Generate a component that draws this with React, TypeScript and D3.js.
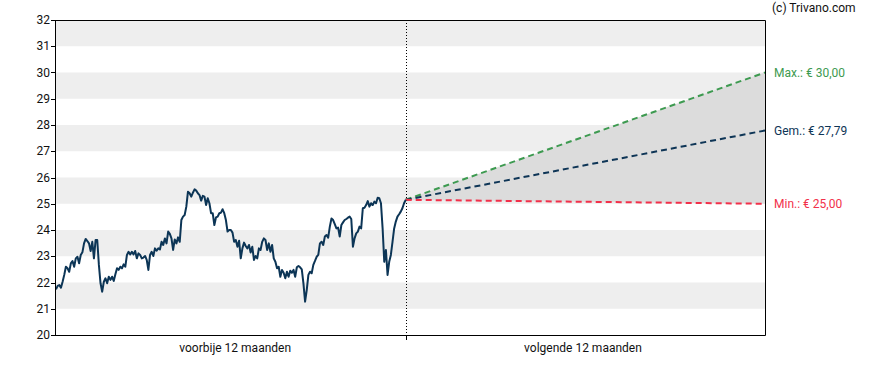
import React from "react";
import * as d3 from "d3";

// Past 12 months closing prices (evenly spaced trading days)
const pastPrices: number[] = [
  21.74, 21.87, 21.9, 21.8, 22.03, 22.29, 22.6, 22.54, 22.41, 22.73, 22.82, 22.6, 22.92, 22.98, 22.73, 23.05, 23.15, 23.49, 23.66, 23.58, 23.49, 23.2, 23.55, 22.92, 23.62, 23.62, 22.67, 21.97, 21.65, 22.03, 22.16, 21.97, 22.22, 22.1, 22.22, 22.06, 22.31, 22.54, 22.48, 22.6, 22.54, 22.69, 22.6, 23.05, 23.17, 23.07, 23.17, 23.07, 23.2, 22.92, 23.11, 23.05, 22.92, 22.95,
  23.01, 22.86, 22.48, 23.05, 23.17, 23.01, 23.3, 23.21, 23.3, 23.26, 23.55, 23.43, 23.68, 23.49, 23.94, 23.85, 23.68, 23.24, 23.64, 23.49, 23.72, 23.55, 24.38, 24.51, 24.57, 24.89, 25.46, 25.4, 25.27, 25.42, 25.55, 25.5, 25.4, 25.33, 25.12, 25.3, 25.27, 24.95, 25.21, 25.02, 24.64, 24.64, 24.19, 24.48, 24.51, 24.64, 24.66, 24.79, 24.64, 24.38, 23.94, 24.0,
  24.0, 23.9, 23.55, 23.62, 23.36, 23.59, 22.92, 23.3, 23.52, 23.39, 23.3, 23.43, 23.14, 23.36, 22.86, 23.01, 22.92, 23.3, 23.24, 23.55, 23.68, 23.62, 23.24, 23.49, 23.17, 23.43, 22.92, 22.79, 22.54, 22.6, 22.22, 22.48, 22.37, 22.16, 22.41, 22.22, 22.45, 22.37, 22.48, 22.22, 22.58, 22.63, 22.58, 22.5, 21.97, 21.27, 21.71, 22.29, 22.41, 22.35, 22.67,
  22.82, 22.98, 23.05, 23.49, 23.55, 23.43, 23.75, 23.81, 23.71, 24.13, 24.44, 24.38, 24.22, 24.06, 24.09, 23.75, 24.19, 24.29, 24.38, 24.42, 24.47, 24.51, 24.42, 23.36, 23.68, 23.87, 23.94, 24.13, 24.06, 24.83, 24.85, 24.95, 25.1, 24.89, 25.02, 24.95, 25.08, 25.02, 25.23, 25.21, 25.02, 24.06, 22.79, 23.24, 22.29, 22.79, 23.05, 23.55, 24.06, 24.32, 24.51, 24.6, 24.7, 24.83, 25.02, 25.15,
];

const yTicks: number[] = [20, 21, 22, 23, 24, 25, 26, 27, 28, 29, 30, 31, 32];
const bandStarts: number[] = [21, 23, 25, 27, 29, 31];

const targetNames: string[] = ["Max.", "Gem.", "Min."];
const targetValues: number[] = [30.0, 27.79, 25.0];
const targetColors: string[] = ["#3d9a50", "#0e3556", "#f2304a"];

const periodLabels: string[] = ["voorbije 12 maanden", "volgende 12 maanden"];
const periodLabelDays: number[] = [-178, 185];

const PAST_DAYS = 365;
const FUTURE_DAYS = 375;

const W = 888;
const H = 370;
const M = { left: 56, right: 123, top: 20, bottom: 35 };

export default function App() {
  const x = d3
    .scaleLinear()
    .domain([-PAST_DAYS, FUTURE_DAYS])
    .range([M.left, W - M.right]);
  const y = d3
    .scaleLinear()
    .domain([20, 32])
    .range([H - M.bottom, M.top]);

  const n = pastPrices.length;
  const dayOf = (i: number) => -PAST_DAYS + (i * PAST_DAYS) / (n - 1);
  const pastLine = d3
    .line<number>()
    .x((_, i) => x(dayOf(i)))
    .y((d) => y(d))(pastPrices);

  const last = pastPrices[n - 1];
  const projLine = (target: number) =>
    d3
      .line<[number, number]>()
      .x((d) => x(d[0]))
      .y((d) => y(d[1]))([
      [0, last],
      [FUTURE_DAYS, target],
    ]);

  const areaPath = d3
    .area<[number, number, number]>()
    .x((d) => x(d[0]))
    .y0((d) => y(d[2]))
    .y1((d) => y(d[1]))([
    [0, last, last],
    [FUTURE_DAYS, targetValues[0], targetValues[2]],
  ]);

  const x0 = x(-PAST_DAYS);
  const x1 = x(FUTURE_DAYS);
  const yTop = y(32);
  const yBot = y(20);
  const xDiv = Math.round(x(0)) + 0.5;
  const font = "Roboto, 'Noto Sans', Arial, sans-serif";

  return (
    <svg
      width={W}
      height={H}
      style={{ position: "absolute", left: 0, top: 0, display: "block" }}
      fontFamily={font}
    >
      <rect x={0} y={0} width={W} height={H} fill="#fff" />
      {bandStarts.map((b) => (
        <rect
          key={b}
          x={x0}
          y={y(b + 1)}
          width={x1 - x0}
          height={y(b) - y(b + 1)}
          fill="#eeeeee"
        />
      ))}
      <path d={areaPath || ""} fill="#dcdcdc" />
      <line
        x1={xDiv}
        x2={xDiv}
        y1={yTop}
        y2={yBot}
        stroke="#000"
        strokeWidth={1}
        strokeDasharray="1,2"
      />
      {targetValues.map((t, i) => (
        <path
          key={i}
          d={projLine(t) || ""}
          fill="none"
          stroke={targetColors[i]}
          strokeWidth={2}
          strokeDasharray="6,4"
        />
      ))}
      <path
        d={pastLine || ""}
        fill="none"
        stroke="#0c3556"
        strokeWidth={2}
        strokeLinejoin="round"
      />
      {/* frame */}
      <path
        d={`M${Math.round(x0) - 0.5},${Math.round(yTop) + 0.5}H${Math.round(x1) + 0.5}V${Math.round(yBot) + 0.5}H${Math.round(x0) - 0.5}Z`}
        fill="none"
        stroke="#000"
        strokeWidth={1}
      />
      {yTicks.map((t) => (
        <g key={t}>
          <line
            x1={Math.round(x0) - 5}
            x2={Math.round(x0)}
            y1={Math.round(y(t)) + 0.5}
            y2={Math.round(y(t)) + 0.5}
            stroke="#000"
          />
          <text
            x={Math.round(x0) - 6}
            y={y(t)}
            textAnchor="end"
            dominantBaseline="central"
            fontSize={12}
            fill="#111"
          >
            {t}
          </text>
        </g>
      ))}
      <line
        x1={xDiv}
        x2={xDiv}
        y1={Math.round(yBot)}
        y2={Math.round(yBot) + 5}
        stroke="#000"
      />
      {periodLabels.map((l, i) => (
        <text
          key={l}
          x={x(periodLabelDays[i])}
          y={yBot + 13}
          textAnchor="middle"
          dominantBaseline="central"
          fontSize={12}
          fill="#111"
        >
          {l}
        </text>
      ))}
      {targetValues.map((t, i) => (
        <text
          key={i}
          x={x1 + 9}
          y={y(t)}
          dominantBaseline="central"
          fontSize={12}
          fill={targetColors[i]}
        >
          {`${targetNames[i]}: € ${t.toFixed(2).replace(".", ",")}`}
        </text>
      ))}
      <text
        x={x1 + 7}
        y={8}
        dominantBaseline="central"
        fontSize={12}
        fill="#111"
      >
        (c) Trivano.com
      </text>
    </svg>
  );
}
